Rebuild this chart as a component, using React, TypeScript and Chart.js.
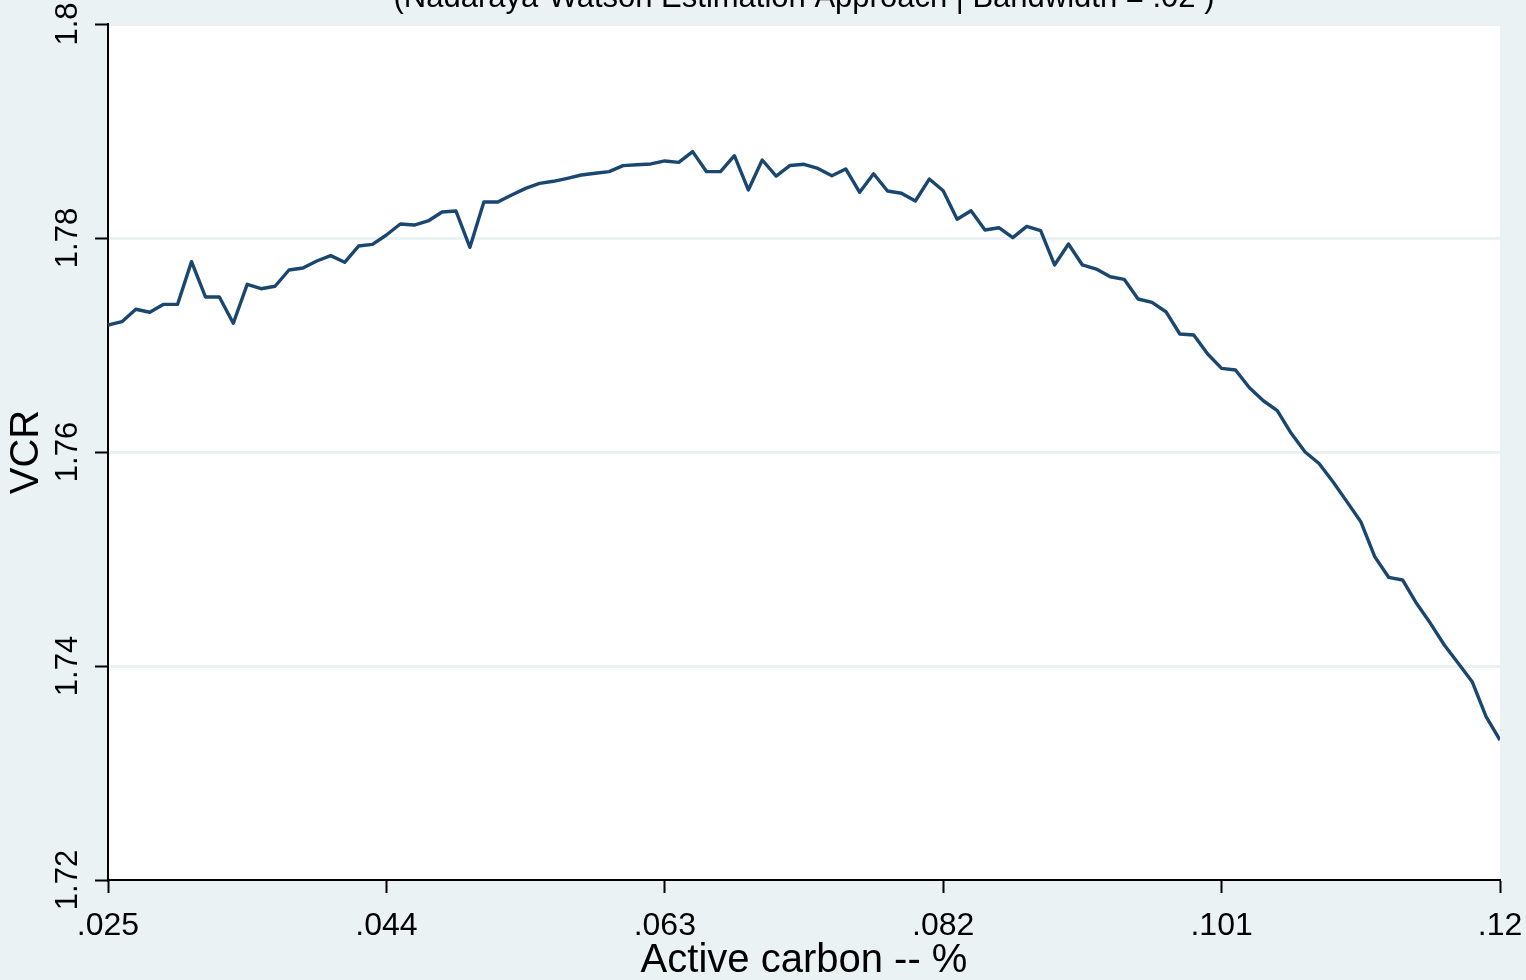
import { useEffect, useRef } from "react";
import { Chart, registerables } from "chart.js";

Chart.register(...registerables);

// Evaluation grid (Active carbon, %) and the smoothed VCR estimate at each grid point
const activeCarbon = [
  0.025, 0.02595, 0.0269, 0.02785, 0.0288, 0.02975, 0.0307, 0.03165, 0.0326, 0.03355,
  0.0345, 0.03545, 0.0364, 0.03735, 0.0383, 0.03925, 0.0402, 0.04115, 0.0421, 0.04305,
  0.044, 0.04495, 0.0459, 0.04685, 0.0478, 0.04875, 0.0497, 0.05065, 0.0516, 0.05255,
  0.0535, 0.05445, 0.0554, 0.05635, 0.0573, 0.05825, 0.0592, 0.06015, 0.0611, 0.06205,
  0.063, 0.06395, 0.0649, 0.06585, 0.0668, 0.06775, 0.0687, 0.06965, 0.0706, 0.07155,
  0.0725, 0.07345, 0.0744, 0.07535, 0.0763, 0.07725, 0.0782, 0.07915, 0.0801, 0.08105,
  0.082, 0.08295, 0.0839, 0.08485, 0.0858, 0.08675, 0.0877, 0.08865, 0.0896, 0.09055,
  0.0915, 0.09245, 0.0934, 0.09435, 0.0953, 0.09625, 0.0972, 0.09815, 0.0991, 0.10005,
  0.101, 0.10195, 0.1029, 0.10385, 0.1048, 0.10575, 0.1067, 0.10765, 0.1086, 0.10955,
  0.1105, 0.11145, 0.1124, 0.11335, 0.1143, 0.11525, 0.1162, 0.11715, 0.1181, 0.11905,
  0.12,
];

const vcr = [
  1.77187, 1.77218, 1.77334, 1.77306, 1.7738, 1.7738, 1.77779, 1.77449, 1.77449, 1.77203,
  1.77567, 1.77526, 1.77549, 1.77701, 1.7772, 1.77785, 1.77835, 1.77773, 1.77925, 1.77941,
  1.78028, 1.78131, 1.78121, 1.78159, 1.78243, 1.78252, 1.77913, 1.78336, 1.78336, 1.78402,
  1.78464, 1.78511, 1.7853, 1.78558, 1.78589, 1.78605, 1.7862, 1.78676, 1.78685, 1.78692,
  1.7872, 1.78707, 1.78807, 1.7862, 1.7862, 1.78769, 1.78449, 1.78729, 1.78579, 1.78678,
  1.78689, 1.7865, 1.78582, 1.78645, 1.78427, 1.786, 1.78439, 1.78418, 1.78346, 1.78551,
  1.78442, 1.78175, 1.78255, 1.78075, 1.78096, 1.78003, 1.78109, 1.78068, 1.77748, 1.77944,
  1.77748, 1.7771, 1.77638, 1.77614, 1.7743, 1.77399, 1.77311, 1.77103, 1.77093, 1.76916,
  1.76782, 1.76766, 1.76601, 1.76479, 1.76386, 1.76175, 1.76, 1.75893, 1.75722, 1.75536,
  1.75349, 1.75022, 1.74829, 1.74804, 1.74586, 1.74399, 1.74196, 1.74025, 1.73853, 1.73526,
  1.73308,
];

const xTickValues = [0.025, 0.044, 0.063, 0.082, 0.101, 0.12];
const xTickLabels = [".025", ".044", ".063", ".082", ".101", ".12"];
const yTickValues = [1.72, 1.74, 1.76, 1.78, 1.8];
const yTickLabels = ["1.72", "1.74", "1.76", "1.78", "1.8"];

const titleText = "(Nadaraya-Watson Estimation Approach | Bandwidth = .02 )";
const xTitleText = "Active carbon -- %";
const yTitleText = "VCR";

const FONT = "'Liberation Sans', Arial, Helvetica, sans-serif";
const BG = "#EAF2F3";
const LINE = "#1A476F";
const INK = "#000000";

const W = 1526;
const H = 1020; // 40px taller than the window; the top strip sits above the viewport

const backgroundPlugin = {
  id: "plotBackground",
  beforeDraw(chart: any) {
    const { ctx, chartArea } = chart;
    ctx.save();
    ctx.fillStyle = BG;
    ctx.fillRect(0, 0, chart.width, chart.height);
    ctx.fillStyle = "#ffffff";
    ctx.fillRect(
      chartArea.left,
      chartArea.top,
      chartArea.right - chartArea.left,
      chartArea.bottom - chartArea.top
    );
    ctx.restore();
  },
};

export default function App() {
  const canvasRef = useRef<HTMLCanvasElement>(null);

  useEffect(() => {
    const canvas = canvasRef.current;
    if (!canvas) return;

    const points = activeCarbon.map((x, i) => ({ x, y: vcr[i] }));

    const chart = new Chart(canvas, {
      type: "scatter",
      data: {
        datasets: [
          {
            data: points,
            showLine: true,
            borderColor: LINE,
            borderWidth: 3.4,
            borderJoinStyle: "round",
            pointRadius: 0,
            pointHoverRadius: 0,
            tension: 0,
            fill: false,
          },
        ],
      },
      options: {
        animation: false,
        responsive: false,
        devicePixelRatio: 1,
        events: [],
        layout: { padding: { left: 0, right: 26, top: 0, bottom: 0 } },
        plugins: {
          legend: { display: false },
          tooltip: { enabled: false },
          title: {
            display: true,
            text: titleText,
            fullSize: false,
            color: INK,
            font: { family: FONT, size: 31, weight: "normal", lineHeight: 1 },
            padding: { top: 22.8, bottom: 10.2 },
          },
        },
        scales: {
          x: {
            type: "linear",
            min: 0.025,
            max: 0.12,
            afterBuildTicks: (scale: any) => {
              scale.ticks = xTickValues.map((value) => ({ value }));
            },
            afterFit: (scale: any) => {
              scale.height = 100;
              scale.paddingLeft = 0;
              scale.paddingRight = 0;
            },
            ticks: {
              autoSkip: false,
              minRotation: 0,
              maxRotation: 0,
              padding: 14,
              color: INK,
              font: { family: FONT, size: 32 },
              callback: (_v: any, i: number) => xTickLabels[i],
            },
            grid: {
              drawOnChartArea: false,
              drawTicks: true,
              tickLength: 13,
              tickColor: INK,
              tickWidth: 2,
            },
            border: { display: true, color: INK, width: 2 },
            title: {
              display: true,
              text: xTitleText,
              color: INK,
              font: { family: FONT, size: 40, lineHeight: 1.2 },
              padding: { top: 0, bottom: -5 },
            },
          },
          y: {
            type: "linear",
            min: 1.72,
            max: 1.8,
            afterBuildTicks: (scale: any) => {
              scale.ticks = yTickValues.map((value) => ({ value }));
            },
            afterFit: (scale: any) => {
              scale.width = 108;
              scale.paddingTop = 0;
              scale.paddingBottom = 0;
            },
            ticks: {
              autoSkip: false,
              minRotation: 90,
              maxRotation: 90,
              crossAlign: "center",
              padding: -3.7,
              color: INK,
              font: { family: FONT, size: 31 },
              callback: (_v: any, i: number) => yTickLabels[i],
            },
            grid: {
              drawOnChartArea: true,
              drawTicks: true,
              color: (ctx: any) =>
                ctx.tick && ctx.tick.value === yTickValues[0] ? "rgba(0,0,0,0)" : BG,
              lineWidth: 3,
              tickLength: 13,
              tickColor: INK,
              tickWidth: 2,
            },
            border: { display: true, color: INK, width: 2 },
            title: {
              display: true,
              text: yTitleText,
              color: INK,
              font: { family: FONT, size: 40, lineHeight: 1.2 },
              padding: { top: 3, bottom: 0 },
            },
          },
        },
      },
      plugins: [backgroundPlugin],
    } as any);

    return () => chart.destroy();
  }, []);

  return (
    <div
      style={{
        position: "fixed",
        left: 0,
        top: -40,
        width: W,
        height: H,
        background: BG,
        overflow: "hidden",
      }}
    >
      <canvas
        ref={canvasRef}
        width={W}
        height={H}
        style={{ display: "block", width: W, height: H }}
      />
    </div>
  );
}
